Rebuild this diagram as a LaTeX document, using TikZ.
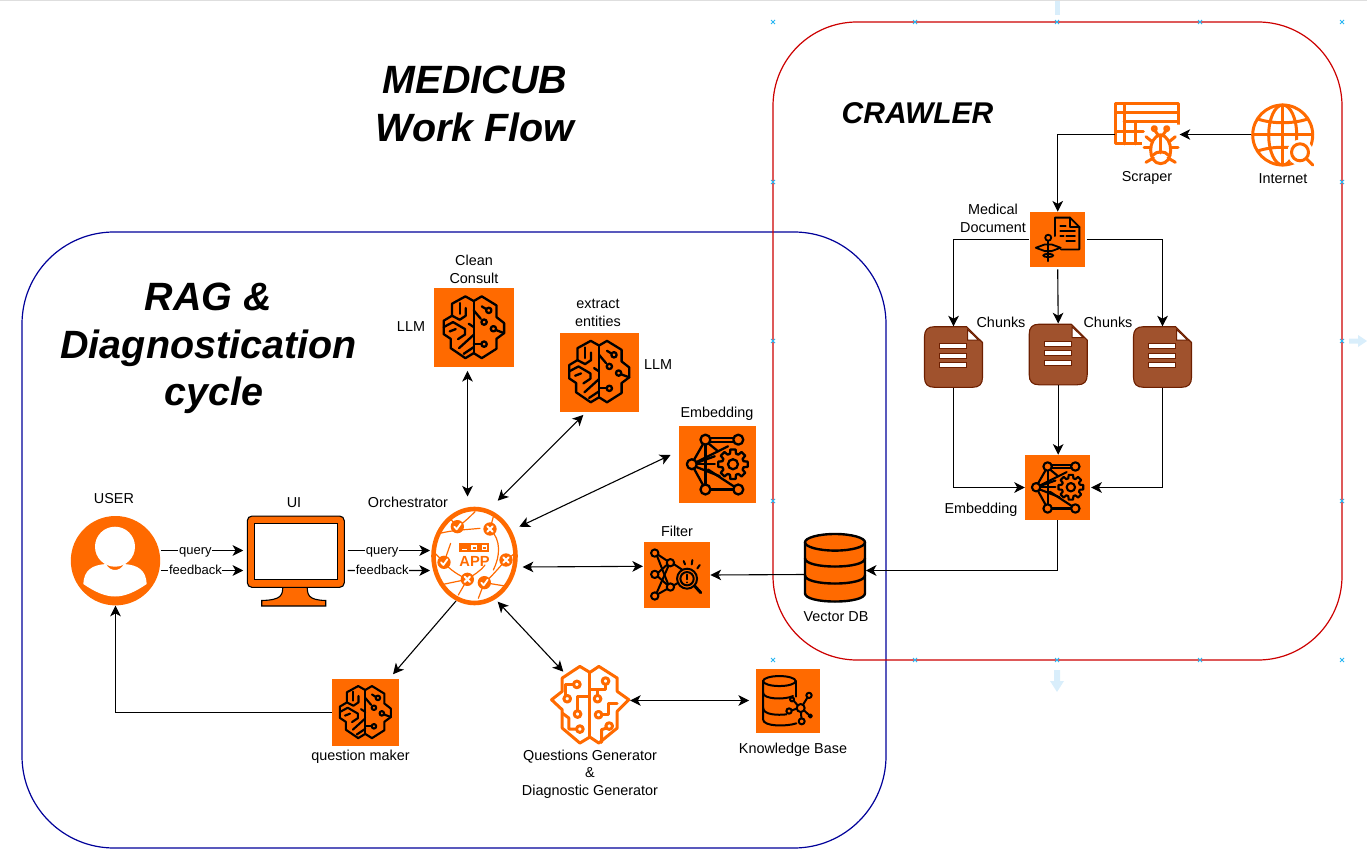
\documentclass[tikz,border=0pt]{standalone}
\usepackage{fontspec}
\setmainfont{Liberation Sans}
\usetikzlibrary{arrows.meta,calc,shapes.geometric}
\definecolor{orng}{HTML}{FF6A00}
\definecolor{brn}{HTML}{A0522D}
\definecolor{brnd}{HTML}{6D1F00}
\definecolor{hnd}{HTML}{29B6F2}
\definecolor{hnda}{HTML}{D9EEFB}
\tikzset{
  px/.style={line width=#1*0.75pt},
  conn/.style={draw=black,px=1.1,-{Stealth[length=8pt,width=8pt,inset=2.2pt]}},
  bconn/.style={draw=black,px=1.1,{Stealth[length=8pt,width=8pt,inset=2.2pt]}-{Stealth[length=8pt,width=8pt,inset=2.2pt]}},
  txt/.style={font=\fontsize{10.8}{13.5}\selectfont,align=center,inner sep=0pt,text=black},
  lab/.style={font=\fontsize{9.75}{12}\selectfont,fill=white,inner xsep=0.5pt,inner ysep=0pt,text height=7.5pt,text depth=2pt,text=black},
  title/.style={font=\fontsize{29.6}{36}\selectfont\bfseries\itshape,align=center,inner sep=0pt,text=black},
  iconbox/.style={fill=orng,draw=none,rectangle,inner sep=0pt,minimum size=#1*0.75pt},
  free/.style 2 args={rectangle,draw=none,inner sep=0pt,minimum width=#1*0.75pt,minimum height=#2*0.75pt},
  blk/.style={draw=black,px=#1,line cap=round,line join=round},
  org/.style={draw=orng,px=#1,line cap=round,line join=round},
  thinorg/.style={draw=orng,px=1.2,line cap=round},
  doc/.style={rectangle,draw=none,inner sep=0pt,minimum width=58*0.75pt,minimum height=60.6*0.75pt},
  hcross/.style={draw=hnd,px=1}
}
\newcommand{\brainicon}[3]{%
\begin{scope}[shift={(#1.north west)},scale=#2,shift={(-103,-144)},blk=#3]
\draw (222,184)--(246,170)--(290,197)--(290,232)--(313,250)--(313,280)--(290,297)--(290,327)--(246,355)--(222,340)--(197,355)--(153,325)--(153,297)--(132,283)--(132,243)--(157,228)--(157,192)--(197,170)--cycle;
\draw (222,184)--(222,340);
\draw (222,212)--(243,237);\draw (253,247) circle[radius=8];
\draw (246,200)--(259,208);\draw (267,212) circle[radius=8];
\draw (289,271)--(313,280);\draw (281,267) circle[radius=8];
\draw (222,313)--(245,313);\draw (253,313) circle[radius=8];
\draw (180,190)--(180,222);
\draw (157,228)--(180,240)--(198,228)--(198,205);
\draw (132,262)--(160,247)--(196,268)--(196,284)--(175,298);
\draw (150,275)--(168,268);
\draw (207,252)--(222,262);
\draw (222,285)--(178,325);
\draw (222,322)--(192,342);
\end{scope}}
\newcommand{\neticon}[3]{%
\begin{scope}[shift={(#1.north west)},scale=#2,shift={(-836,-558)},blk=#3]
\foreach \p/\q in {917/600,1016/600,876/674,917/750,1016/750}{\draw (\p,\q) circle[radius=15];}
\draw (932,595)--(1001,595);\draw (932,606)--(1003,606);
\draw (910,613)--(883,660);\draw (883,688)--(910,737);
\draw (917,615)--(917,735);
\draw (927,612)--(955,635);\draw (891,667)--(985,620);
\draw (891,674)--(945,674);
\draw (889,682)--(960,710);
\draw (932,750)--(1001,750);\draw (925,690)--(1003,741);
\draw (895,668)--(945,650);
\begin{scope}[shift={(1000,674)}]
\draw (-16:33) \foreach \a in {0,45,...,315}{ -- (\a-16:33) -- (\a-10:45) -- (\a+10:45) -- (\a+16:33)} -- cycle;
\draw (0,0) circle[radius=15];
\end{scope}
\end{scope}}
\begin{document}
\begin{tikzpicture}[x=0.75pt,y=-0.75pt]
\useasboundingbox (0,0) rectangle (1367,866);
\draw[draw=black!13,px=1.5] (0,0.5)--(1367,0.5);
% containers
\node[rectangle,draw={rgb,255:red,0;green,0;blue,153},px=1.2,rounded corners=69pt,minimum width=864*0.75pt,minimum height=616*0.75pt,inner sep=0pt] (ragbox) at (454,540) {};
\node[rectangle,draw={rgb,255:red,204;green,0;blue,0},px=1.2,rounded corners=63pt,minimum width=569*0.75pt,minimum height=638*0.75pt,inner sep=0pt] (crawlerbox) at (1057.5,341) {};
% handles
\foreach \hx/\hy in {773/22,915/22,1057/22,1200/22,1342/22,773/182,773/341,773/501,1342/182,1342/341,1342/501,773/660,915/660,1057/660,1200/660,1342/660}{
  \draw[hcross] (\hx-2,\hy-2)--(\hx+2,\hy+2) (\hx-2,\hy+2)--(\hx+2,\hy-2);
}
\fill[hnda] (1054.5,1)--(1059.5,1)--(1059.5,15)--(1054.5,15)--cycle;
\fill[hnda] (1054,670)--(1060,670)--(1060,681)--(1064,681)--(1057,692)--(1050,681)--(1054,681)--cycle;
\fill[hnda] (1349,338.5)--(1358,338.5)--(1358,335)--(1367,341)--(1358,347)--(1358,343.5)--(1349,343.5)--cycle;
% titles
\node[title] (tmain) at (475,103.5) {MEDICUB\\Work Flow};
\node[title,font=\fontsize{22.5}{27}\selectfont\bfseries\itshape] (tcrawl) at (917.5,113) {CRAWLER};
\node[title] (trag) at (208.5,325) {RAG \&\\Diagnostication};
\node[title,anchor=base] (tcycle) at (214,405.5) {cycle};
% icon boxes
\node[iconbox=79.5] (clean) at (474,327.7) {};
\node[iconbox=79] (extract) at (599.3,372) {};
\node[iconbox=77] (embed) at (717.3,464.5) {};
\node[iconbox=66] (filter) at (676.7,575) {};
\node[iconbox=67] (qmaker) at (365.5,712.5) {};
\node[iconbox=64] (kb) at (788,701) {};
\node[iconbox=55.3] (meddoc) at (1057.7,239.5) {};
\node[iconbox=65] (embedb) at (1057.7,487.5) {};
\brainicon{clean}{0.334}{2.3}
\brainicon{extract}{0.332}{2.3}
\brainicon{qmaker}{0.2815}{2.1}
\neticon{embed}{0.332}{2.3}
\neticon{embedb}{0.28}{2.1}
% filter icon
\begin{scope}[shift={(filter.north west)},scale=0.333,shift={(-731,-907)},blk=2]
\foreach \p/\q in {765/941,812/970,765/1005,812/1043,765/1070}{\draw (\p,\q) circle[radius=11];}
\draw (772,950)--(805,1034);\draw (775,946)--(802,964);\draw (775,1000)--(802,976);
\draw (775,1012)--(802,1036);\draw (771,1060)--(806,980);\draw (775,1064)--(802,1049);
\draw (822,974)--(846,990);\draw (822,1038)--(836,1030);
\draw (862,1018) circle[radius=30];\draw (862,1018) circle[radius=20];
\draw[px=3] (885,1040)--(903,1060);
\draw (852,965)--(856,975);\draw (878,962)--(876,975);\draw (900,977)--(893,987);
\draw[px=2] (862,1006)--(862,1020);\fill (862,1029) circle[radius=3];
\end{scope}
% knowledge base icon
\begin{scope}[shift={(kb.north west)},scale=0.333,shift={(-678,-58)},blk=2]
\draw (749,95) ellipse[x radius=49,y radius=15];
\draw (700,95)--(700,210) .. controls (700,232) and (770,232) .. (800,222);
\draw (798,95)--(798,142);
\draw (700,130) .. controls (700,150) and (765,152) .. (790,140);
\draw (700,175) .. controls (700,197) and (745,198) .. (770,195);
\draw (813,176) circle[radius=12];
\draw (838,138) circle[radius=8];\draw (787,150) circle[radius=6];
\draw (778,185) circle[radius=8];\draw (816,216) circle[radius=9];\draw (842,200) circle[radius=5];
\draw (820,166)--(833,145);\draw (792,154)--(804,168);\draw (786,183)--(801,178);\draw (814,188)--(815,207);\draw (824,184)--(838,197);
\end{scope}
% medical document icon
\begin{scope}[shift={(meddoc.north west)},scale=0.335,shift={(-15,-12)},blk=1.8]
\draw (90,85)--(90,30)--(135,30)--(163,58)--(163,125)--(108,125);
\draw (135,30)--(135,58)--(163,58);
\draw (106,55)--(122,55);\draw (106,70)--(150,70);\draw (106,85)--(116,85);\draw (124,85)--(150,85);\draw (124,100)--(150,100);
\draw (70,90) circle[radius=9];
\draw (70,100)--(70,160);
\draw (33,120)--(60,110)--(80,110)--(107,120)--(80,130)--(60,130)--cycle;
\draw (70,143) ellipse[x radius=15,y radius=5];
\end{scope}
% orchestrator
\node[ellipse,draw=orng,px=4.6,inner sep=0pt,minimum width=82*0.75pt,minimum height=94*0.75pt] (app) at (474.5,556) {};
\begin{scope}[shift={(430,500)},scale=0.3333]
\draw[thinorg] (30,100) .. controls (70,90) and (100,90) .. (150,85);
\draw[thinorg] (82,80) .. controls (100,70) and (120,50) .. (135,35);
\draw[thinorg] (60,55) -- (82,80);
\draw[thinorg] (180,87) .. controls (215,120) and (210,170) .. (190,210);
\draw[thinorg] (180,87) -- (190,50);
\draw[thinorg] (42,187) .. controls (60,210) and (85,225) .. (112,238);
\draw[thinorg] (42,187) -- (62,130);
\draw[thinorg] (228,180) .. controls (205,205) and (185,230) .. (163,248);
\draw[thinorg] (228,180) -- (255,160);
\draw[thinorg] (112,238) -- (85,285);
\draw[thinorg] (163,248) -- (145,295);
\draw[thinorg] (112,238) .. controls (130,225) and (150,215) .. (165,195);
\draw[thinorg] (163,248) -- (225,258);
\draw[thinorg] (15,160) -- (42,187);
\draw[thinorg] (30,255) -- (112,238);
\fill[orng] (88,130) rectangle (178,155);
\fill[white] (95,148) rectangle (112,150);
\fill[white] (124,136) rectangle (142,150);\fill[orng] (128,140) rectangle (138,146);
\fill[white] (155,136) rectangle (172,150);\fill[orng] (159,140) rectangle (168,146);
\foreach \p/\q in {82/80,42/187,163/248}{
  \fill[orng] (\p,\q) circle[radius=20];
  \draw[draw=white,px=1.8,line cap=round,line join=round] (\p-9,\q) -- (\p-2,\q+8) -- (\p+10,\q-9);
}
\foreach \p/\q in {180/87,228/180,112/238}{
  \fill[orng] (\p,\q) circle[radius=20];
  \draw[draw=white,px=2,line cap=round] (\p-8,\q-8) -- (\p+8,\q+8) (\p-8,\q+8) -- (\p+8,\q-8);
}
\end{scope}
\node[inner sep=0pt,font=\fontsize{11}{13}\selectfont\bfseries,text=orng] (apptxt) at (474.5,561.5) {APP};
% user
\node[circle,fill=orng,draw=none,inner sep=0pt,minimum size=89.4*0.75pt] (user) at (115.5,560.7) {};
\fill[white] (115,546.7) circle[radius=20];
\fill[white] (83.3,584) .. controls (84,570) and (92,565) .. (106,564) .. controls (110,572) and (120,572) .. (124,564) .. controls (138,565) and (146,570) .. (146.7,584) .. controls (135,592) and (125,596.5) .. (115,596.5) .. controls (105,596.5) and (95,592) .. (83.3,584) -- cycle;
% monitor
\path[fill=orng,draw=black,px=1.1] (282.7,585) .. controls (283,595) and (282,600) .. (261.7,600.5) -- (261.7,606) -- (325.7,606) -- (325.7,600.5) .. controls (308,600) and (307,595) .. (307.3,585) -- cycle;
\node[rectangle,fill=orng,draw=black,px=1.1,rounded corners=3.5pt,inner sep=0pt,minimum width=97*0.75pt,minimum height=71.3*0.75pt] (ui) at (295.8,551.7) {};
\fill[white,draw=black,px=1.1] (254.7,523.7) rectangle (337.3,579.3);
% vector db
\node[free={60}{68}] (vector) at (835,568.3) {};
\begin{scope}[shift={(vector.center)},blk=2.4]
\path[fill=orng] (-30,-26)--(-30,25) .. controls (-30,36) and (30,36) .. (30,25)--(30,-26) .. controls (30,-37) and (-30,-37) .. (-30,-26)--cycle;
\draw (-30,-26)--(-30,25) .. controls (-30,36) and (30,36) .. (30,25)--(30,-26);
\draw (0,-26) ellipse[x radius=30,y radius=8.3];
\draw (-30,-10) .. controls (-30,1) and (30,1) .. (30,-10);
\draw (-30,7) .. controls (-30,18) and (30,18) .. (30,7);
\end{scope}
% question generator brain
\node[free={77}{78}] (gen) at (590.3,705) {};
\begin{scope}[shift={(gen.north west)},scale=0.3333,shift={(-65,-48)},org=3]
\draw (180,68)--(207,50)--(262,85)--(262,125)--(297,150)--(262,185)--(262,235)--(207,280)--(180,262)--(150,280)--(97,235)--(97,180)--(65,150)--(97,125)--(97,85)--(150,50)--cycle;
\draw (180,68)--(180,262);
\draw (141,104) circle[radius=10];\draw (131,104)--(107,104)--(107,137);\draw (112,147) circle[radius=10];
\draw (143,193) circle[radius=10];\draw (143,183)--(143,140)--(178,140);
\draw (97,190)--(117,205)--(117,238)--(140,238);\draw (150,238) circle[radius=10];
\draw (227,94) circle[radius=10];\draw (227,104)--(227,118)--(182,118);
\draw (203,147) circle[radius=10];\draw (203,137)--(203,120);
\draw (206,195) circle[radius=10];\draw (216,195)--(235,195)--(235,160)--(262,160);
\draw (238,229) circle[radius=10];\draw (230,235)--(215,240)--(215,278);
\end{scope}
% scraper
\node[free={63}{63}] (scraper) at (1146.5,134.5) {};
\begin{scope}[shift={(1110,98)},scale=0.3333,org=3]
\draw (205,95)--(205,17)--(17,17)--(17,138)--(100,138);
\draw (17,45)--(205,45);\draw (42,72)--(205,72);\draw (17,100)--(100,100);
\draw (42,17)--(42,138);\draw (75,72)--(75,138);
\fill[white,draw=none] (125,80) -- (215,80) -- (215,200) -- (100,200) -- (95,115) -- cycle;
\draw (133,92) circle[radius=6];\draw (170,92) circle[radius=6];
\draw (135,98)--(145,112);\draw (168,98)--(158,112);
\draw (152,110) .. controls (112,118) and (112,197) .. (152,197) .. controls (192,197) and (192,118) .. (152,110);
\draw (152,112)--(152,165);
\draw (128,172) .. controls (140,158) and (165,158) .. (176,172);
\draw (125,130)--(108,116);\draw (179,130)--(196,116);
\draw (122,150)--(102,150);\draw (182,150)--(204,150);
\draw (130,180)--(108,193);\draw (174,180)--(196,193);
\end{scope}
% internet
\node[free={62}{62}] (internet) at (1282.7,135) {};
\begin{scope}[shift={(internet.center)},org=3]
\draw (0,0) circle[radius=30];
\draw (0,0) ellipse[x radius=14,y radius=30];
\draw (0,-30)--(0,30);\draw (-30,0)--(30,0);
\draw (-25,-16) .. controls (-10,-11) and (10,-11) .. (25,-16);
\draw (-25,16) .. controls (-10,11) and (10,11) .. (25,16);
\fill[white,draw=none] (17.5,17.5) circle[radius=13];
\draw (17.3,17.3) circle[radius=8.5];
\draw (23.5,23.5)--(30,30);
\end{scope}
% chunk documents
\foreach \nm/\cx/\cy in {chunka/953.5/357,chunkb/1058.2/354.5,chunkc/1162.5/357}{
  \node[doc] (\nm) at (\cx,\cy) {};
  \begin{scope}[shift={(\nm.center)}]
  \path[fill=brn,draw=brnd,px=1.1,line join=round] (-19,-30.3) -- (13,-30.3) -- (29,-14.5) -- (29,20.3) .. controls (29,27) and (26,30.3) .. (19,30.3) -- (-19,30.3) .. controls (-26,30.3) and (-29,27) .. (-29,20.3) -- (-29,-20.3) .. controls (-29,-27) and (-26,-30.3) .. (-19,-30.3) -- cycle;
  \path[fill=white,draw=brnd,px=1] (14,-27.5) -- (14,-17) -- (25,-17) -- cycle;
  \foreach \ly in {-11,-1.5,8}{\path[fill=white,draw=brnd,px=1] (-14,\ly-2.5) rectangle (13,\ly+2.5);}
  \end{scope}
}
% text
\node[txt] (lclean) at (474,269) {Clean\\Consult};
\node[txt] (lllma) at (411,327) {LLM};
\node[txt] (lextract) at (598,313) {extract\\entities};
\node[txt] (lllmb) at (658,365) {LLM};
\node[txt] (lembed) at (717,414) {Embedding};
\node[txt] (lfilter) at (677,531) {Filter};
\node[txt] (luser) at (114,499) {USER};
\node[txt] (lui) at (294,503) {UI};
\node[txt] (lorch) at (408,502.5) {Orchestrator};
\node[txt] (lqm) at (360.5,757) {question maker};
\node[txt,font=\fontsize{10.8}{13.1}\selectfont] (lgen) at (590,774) {Questions Generator\\\&\\Diagnostic Generator};
\node[txt] (lkb) at (793,750) {Knowledge Base};
\node[txt] (lvec) at (836,617) {Vector DB};
\node[txt] (lscr) at (1147,178) {Scraper};
\node[txt] (lint) at (1283,179) {Internet};
\node[txt] (lmed) at (993,218) {Medical\\Document};
\node[txt] (lcha) at (1001,322) {Chunks};
\node[txt] (lchb) at (1108,322) {Chunks};
\node[txt] (lembb) at (981,510) {Embedding};
% connectors
\draw[conn] ($(user.east)+(0.3,-10.2)$) -- node[lab,pos=.42] (qa) {query} ($(ui.west)+(-3.5,-1.2)$);
\draw[conn] ($(user.east)+(0.3,9.8)$) -- node[lab,pos=.42] (fa) {feedback} ($(ui.west)+(-3.5,18.8)$);
\draw[conn] ($(ui.east)+(2.7,-1.2)$) -- node[lab,pos=.42] (qb) {query} ($(app)+(-44.5,-5.5)$);
\draw[conn] ($(ui.east)+(2.7,18.8)$) -- node[lab,pos=.42] (fb) {feedback} ($(app)+(-44.5,14.5)$);
\draw[bconn] ($(clean.south)+(-6.5,3.2)$) -- ($(app)+(-7,-59.5)$);
\draw[bconn] ($(extract.south)+(-16,3.2)$) -- ($(app)+(23.2,-55.3)$);
\draw[bconn] ($(embed.west)+(-8,-9.5)$) -- ($(app)+(44.8,-29.3)$);
\draw[bconn] ($(app)+(48.2,11)$) -- ($(filter.west)+(-0.4,-8.7)$);
\draw[conn] ($(vector.west)+(0,6.2)$) -- ($(filter.east)+(0.5,0)$);
\draw[conn] (embedb.south) |- ($(vector.east)+(0.5,2.2)$);
\draw[conn] ($(app)+(-18.5,45)$) -- ($(qmaker.north)+(27.5,-4.5)$);
\draw[bconn] ($(app)+(23.2,45.7)$) -- ($(gen.center)+(-27,-33.3)$);
\draw[bconn] ($(gen.east)+(1,-4.5)$) -- ($(kb.west)+(-6.7,-0.5)$);
\draw[conn] (qmaker.west) -| (user.south);
\draw[conn] ($(internet.west)+(0,-0.5)$) -- ($(scraper.east)+(1.3,0)$);
\draw[conn] (scraper.west) -| (meddoc.north);
\draw[conn] ($(meddoc.west)+(-1,0)$) -| (chunka.north);
\draw[conn] ($(meddoc.east)+(1,0)$) -| (chunkc.north);
\draw[conn] ($(meddoc.south)+(0,2)$) -- ($(chunkb.north)+(0,-0.5)$);
\draw[conn] (chunka.south) |- (embedb.west);
\draw[conn] (chunkb.south) -- (chunkb.south |- embedb.north);
\draw[conn] (chunkc.south) |- ($(embedb.east)+(0.7,0)$);
\end{tikzpicture}
\end{document}
